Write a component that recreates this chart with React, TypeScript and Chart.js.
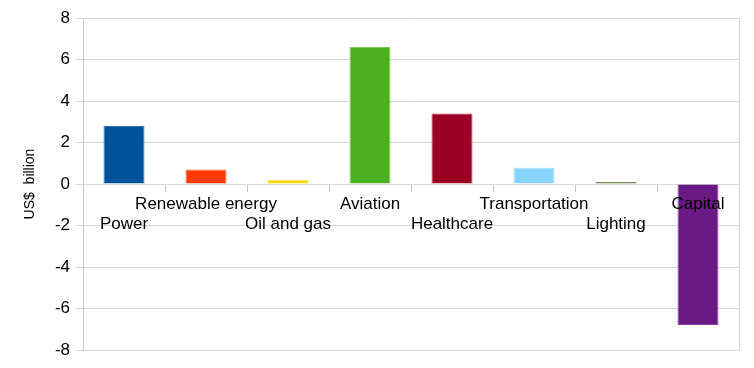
import React, { useEffect, useRef } from "react";
import { Chart, registerables } from "chart.js";

Chart.register(...registerables);

const categories: string[] = [
  "Power",
  "Renewable energy",
  "Oil and gas",
  "Aviation",
  "Healthcare",
  "Transportation",
  "Lighting",
  "Capital",
];
const values: number[] = [2.8, 0.7, 0.2, 6.6, 3.4, 0.8, 0.1, -6.8];
const barColors: string[] = [
  "#02529c",
  "#ff3a00",
  "#ffd800",
  "#4cb120",
  "#9c0022",
  "#87d4ff",
  "#4e6130",
  "#6a1a84",
];
const borderColors: string[] = [
  "#2a6cb0",
  "#ff6a40",
  "#ffe460",
  "#7cd050",
  "#b8334a",
  "#a8e0ff",
  "#6a7d48",
  "#8c40a8",
];
const yTicks: number[] = [-8, -6, -4, -2, 0, 2, 4, 6, 8];
const yTitle = "US$  billion";

// Stagger labels: even index on lower row, odd on upper row
const staggeredLabels = categories.map((c, i) => (i % 2 === 0 ? ["", c] : [c]));

const rightBorder = {
  id: "rightBorder",
  afterDraw(chart: any) {
    const { ctx, chartArea } = chart;
    ctx.save();
    ctx.strokeStyle = "#d4d4d4";
    ctx.lineWidth = 1;
    ctx.beginPath();
    ctx.moveTo(Math.round(chartArea.right) + 0.5, chartArea.top);
    ctx.lineTo(Math.round(chartArea.right) + 0.5, chartArea.bottom);
    ctx.stroke();
    ctx.restore();
  },
};

export default function App() {
  const ref = useRef<HTMLCanvasElement | null>(null);
  useEffect(() => {
    document.body.style.margin = "0";
    if (!ref.current) return;
    const chart = new Chart(ref.current, {
      type: "bar",
      data: {
        labels: staggeredLabels as any,
        datasets: [
          {
            data: values,
            backgroundColor: barColors,
            borderColor: borderColors,
            borderWidth: 1,
            barPercentage: 0.5,
            categoryPercentage: 1,
          },
        ],
      },
      options: {
        animation: false,
        responsive: true,
        maintainAspectRatio: false,
        layout: { padding: { left: 0, right: 15, top: 18, bottom: 18 } },
        plugins: { legend: { display: false }, tooltip: { enabled: false } },
        scales: {
          x: {
            position: { y: 0 } as any,
            grid: {
              offset: true,
              drawOnChartArea: false,
              tickLength: 8,
              color: "#c8c8c8",
            },
            border: { display: false },
            ticks: {
              z: 1,
              color: "#000",
              padding: 3,
              autoSkip: false,
              maxRotation: 0,
              font: { family: "Liberation Sans, Arial, sans-serif", size: 17, lineHeight: 1.15 },
            },
          },
          y: {
            min: -8,
            max: 8,
            afterFit(scale: any) {
              scale.width = 83;
            },
            afterBuildTicks(scale: any) {
              scale.ticks = yTicks.map((v) => ({ value: v }));
            },
            grid: { color: "#d9d9d9", tickLength: 7 },
            border: { color: "#cccccc" },
            ticks: {
              color: "#000",
              padding: 6,
              font: { family: "Liberation Sans, Arial, sans-serif", size: 17 },
            },
            title: {
              display: true,
              text: yTitle,
              color: "#000",
              padding: { top: 22, bottom: 0 },
              font: { family: "Liberation Sans, Arial, sans-serif", size: 14 },
            },
          },
        },
      },
      plugins: [rightBorder],
    });
    return () => chart.destroy();
  }, []);
  return (
    <div style={{ width: 754, height: 368, position: "relative" }}>
      <canvas ref={ref} />
    </div>
  );
}
